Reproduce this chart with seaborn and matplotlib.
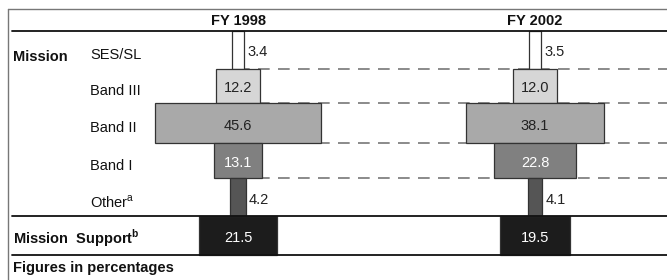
import numpy as np
import pandas as pd
import matplotlib
matplotlib.use('Agg')
import matplotlib.pyplot as plt
import seaborn as sns

# Data (percentages)
rows = ['SES/SL', 'Band III', 'Band II', 'Band I', 'Other', 'Mission Support']
row_labels = ['SES/SL', 'Band III', 'Band II', 'Band I', r'Other$^\mathregular{a}$', '']
years = ['FY 1998', 'FY 2002']
fy1998 = [3.4, 12.2, 45.6, 13.1, 4.2, 21.5]
fy2002 = [3.5, 12.0, 38.1, 22.8, 4.1, 19.5]

# Style
fills = ['#ffffff', '#d6d6d6', '#a9a9a9', '#808080', '#555555', '#1c1c1c']
text_colors = ['#222222', '#222222', '#222222', '#ffffff', '#222222', '#ffffff']
outside = [True, False, False, False, True, False]

sns.set_theme(style='white')
plt.rcParams['font.family'] = ['Liberation Sans', 'DejaVu Sans']
plt.rcParams['mathtext.fontset'] = 'custom'
plt.rcParams['mathtext.rm'] = 'Liberation Sans'
plt.rcParams['mathtext.bf'] = 'Liberation Sans:bold'

W, H = 667, 280
PX = 3.62                      # pixels per percentage point
bounds = [31, 69, 103, 143, 178, 216, 255]   # row edges in pixels (top-down)
centers_px = [238, 535]
FS = 10.5

fig = plt.figure(figsize=(W / 100, H / 100), dpi=100)
ax = fig.add_axes([0, 0, 1, 1])
ax.set_xlim(0, W / PX)
ax.set_ylim(H, 0)
ax.axis('off')

def px(x):
    return x / PX

# Frame and rules
ax.plot([px(8), px(W)], [9, 9], color='#777777', lw=1.0)
ax.plot([px(8), px(8)], [9, H], color='#777777', lw=1.0)
for y in (31, 216, 255):
    ax.plot([px(12), px(W)], [y, y], color='#111111', lw=1.3, zorder=4)

# Dashed connectors at Band boundaries
for y in bounds[1:5]:
    ax.plot([px(centers_px[0]), px(W)], [y, y], color='#777777', lw=1.2,
            dashes=(7, 5), zorder=1)

df = pd.DataFrame({'row': rows, years[0]: fy1998, years[1]: fy2002})
for year, cx in zip(years, centers_px):
    c = px(cx)
    ax.text(c, 21, year, ha='center', va='center', fontsize=FS, fontweight='bold',
            color='#111111')
    for i, v in enumerate(df[year]):
        top, bot = bounds[i], bounds[i + 1]
        ax.barh((top + bot) / 2, v, height=bot - top, left=c - v / 2,
                color=fills[i], edgecolor='#333333', linewidth=0.9, zorder=3)
        ty = (top + bot) / 2 + 2.5
        if outside[i]:
            ax.text(c + v / 2 + px(3), ty, f'{v:.1f}', ha='left', va='center',
                    fontsize=FS, color=text_colors[i], zorder=5)
        else:
            ax.text(c, ty, f'{v:.1f}', ha='center', va='center', fontsize=FS,
                    color=text_colors[i], zorder=5)

# Row labels
for i, lab in enumerate(row_labels):
    if lab:
        ty = (bounds[i] + bounds[i + 1]) / 2 + 5
        ax.text(px(90), ty, lab, ha='left', va='center', fontsize=FS, color='#111111')
ax.text(px(13), 57, 'Mission', ha='left', va='center', fontsize=FS,
        fontweight='bold', color='#111111')
ax.text(px(13), 238, r'Mission  Support$^\mathbf{b}$', ha='left', va='center',
        fontsize=FS, fontweight='bold', color='#111111')
ax.text(px(13), 268, 'Figures in percentages', ha='left', va='center', fontsize=FS,
        fontweight='bold', color='#111111')

fig.savefig('out.png', dpi=100)
